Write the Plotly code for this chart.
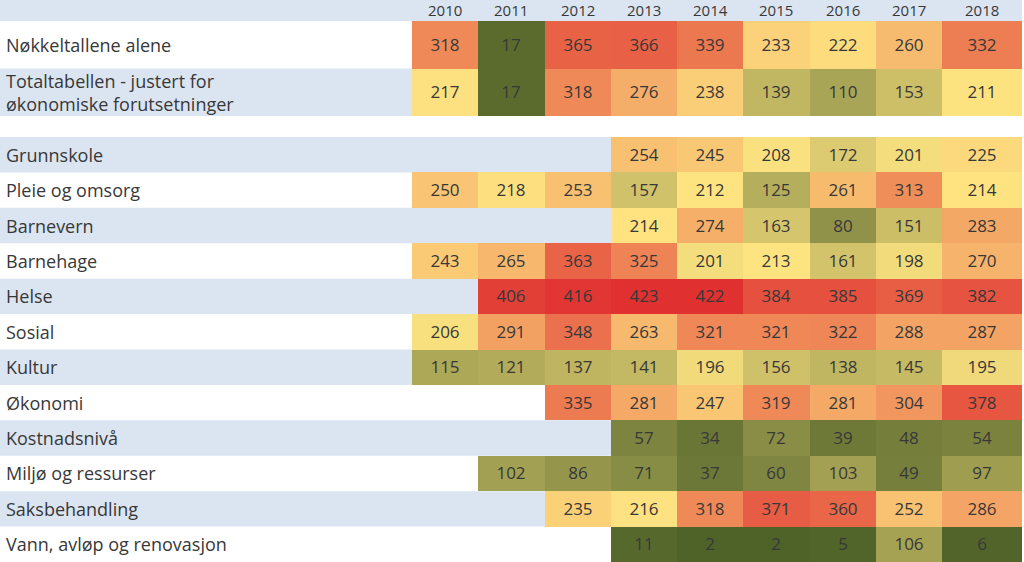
import plotly.graph_objects as go

# ---------------- data ----------------
years = [2010, 2011, 2012, 2013, 2014, 2015, 2016, 2017, 2018]

top_labels = ["Nøkkeltallene alene",
              "Totaltabellen - justert for<br>økonomiske forutsetninger"]
nokkeltall_alene = [318, 17, 365, 366, 339, 233, 222, 260, 332]
totaltabellen = [217, 17, 318, 276, 238, 139, 110, 153, 211]

sector_labels = ["Grunnskole", "Pleie og omsorg", "Barnevern", "Barnehage",
                 "Helse", "Sosial", "Kultur", "Økonomi", "Kostnadsnivå",
                 "Miljø og ressurser", "Saksbehandling",
                 "Vann, avløp og renovasjon"]
grunnskole = [None, None, None, 254, 245, 208, 172, 201, 225]
pleie_omsorg = [250, 218, 253, 157, 212, 125, 261, 313, 214]
barnevern = [None, None, None, 214, 274, 163, 80, 151, 283]
barnehage = [243, 265, 363, 325, 201, 213, 161, 198, 270]
helse = [None, 406, 416, 423, 422, 384, 385, 369, 382]
sosial = [206, 291, 348, 263, 321, 321, 322, 288, 287]
kultur = [115, 121, 137, 141, 196, 156, 138, 145, 195]
okonomi = [None, None, 335, 281, 247, 319, 281, 304, 378]
kostnadsniva = [None, None, None, 57, 34, 72, 39, 48, 54]
miljo = [None, 102, 86, 71, 37, 60, 103, 49, 97]
saksbehandling = [None, None, 235, 216, 318, 371, 360, 252, 286]
vann = [None, None, None, 11, 2, 2, 5, 106, 6]

top_z = [nokkeltall_alene, totaltabellen]
sector_z = [grunnskole, pleie_omsorg, barnevern, barnehage, helse, sosial,
            kultur, okonomi, kostnadsniva, miljo, saksbehandling, vann]

# ---------------- styling ----------------
W, H = 1024, 562
FONT = "Open Sans"
TXT = "#383838"
STRIPE = "#dbe5f1"
colorscale = [[0.0, "#4f6228"], [0.5, "#fee481"], [1.0, "#e03030"]]
all_vals = [v for row in top_z + sector_z for v in row if v is not None]
zmin, zmax = min(all_vals), max(all_vals)

# column geometry (x axis in year units); last column is a bit wider
px_per_unit = 66.25
first_edge_px = 412
edges = [y - 0.5 for y in years] + [years[-1] + 0.5 + 14 / px_per_unit]
x_left = years[0] - 0.5 - first_edge_px / px_per_unit
x_right = x_left + W / px_per_unit
centers = [(edges[i] + edges[i + 1]) / 2 for i in range(len(years))]

def txt(z):
    return [["" if v is None else str(v) for v in row] for row in z]

val_font = dict(family=FONT, size=17, color=TXT)
lab_font = dict(family=FONT, size=18, color=TXT)

fig = go.Figure()
fig.add_trace(go.Heatmap(
    z=top_z, x=edges, y=top_labels, yaxis="y2",
    text=txt(top_z), texttemplate="%{text}", textfont=val_font,
    colorscale=colorscale, zmin=zmin, zmax=zmax, showscale=False,
    hoverinfo="skip", xgap=0, ygap=0))
fig.add_trace(go.Heatmap(
    z=sector_z, x=edges, y=sector_labels, yaxis="y",
    text=txt(sector_z), texttemplate="%{text}", textfont=val_font,
    colorscale=colorscale, zmin=zmin, zmax=zmax, showscale=False,
    hoverinfo="skip", xgap=0, ygap=0))

shapes = []
xr = 1022 / W
# header stripe
shapes.append(dict(type="rect", xref="paper", yref="paper", x0=0, x1=xr,
                   y0=1 - 21 / H, y1=1, fillcolor=STRIPE, line_width=0,
                   layer="below"))
# Totaltabellen stripe
shapes.append(dict(type="rect", xref="paper", yref="y2", x0=0, x1=xr,
                   y0=0.5, y1=1.5, fillcolor=STRIPE, line_width=0,
                   layer="below"))
for i in range(0, len(sector_labels), 2):
    shapes.append(dict(type="rect", xref="paper", yref="y", x0=0, x1=xr,
                       y0=i - 0.5, y1=i + 0.5, fillcolor=STRIPE,
                       line_width=0, layer="below"))

annotations = []
for yr, cx in zip(years, centers):
    annotations.append(dict(x=cx, xref="x", y=1 - 10.5 / H, yref="paper",
                            text=str(yr), showarrow=False,
                            font=dict(family=FONT, size=15, color=TXT),
                            xanchor="center", yanchor="middle"))
for i, lab in enumerate(top_labels):
    annotations.append(dict(x=4 / W, xref="paper", y=i, yref="y2",
                            text=lab, showarrow=False, align="left",
                            font=lab_font, xanchor="left", yanchor="middle"))
for i, lab in enumerate(sector_labels):
    annotations.append(dict(x=4 / W, xref="paper", y=i, yref="y",
                            text=lab, showarrow=False, align="left",
                            font=lab_font, xanchor="left", yanchor="middle"))

fig.update_layout(
    width=W, height=H, autosize=False,
    margin=dict(l=0, r=0, t=0, b=0, pad=0),
    paper_bgcolor="white", plot_bgcolor="rgba(0,0,0,0)",
    xaxis=dict(range=[x_left, x_right], visible=False, fixedrange=True),
    yaxis=dict(domain=[0, 1 - 137 / H], type="category",
               range=[len(sector_labels) - 0.5, -0.5], visible=False,
               fixedrange=True),
    yaxis2=dict(domain=[1 - 116 / H, 1 - 21 / H], type="category",
                range=[1.5, -0.5], visible=False, fixedrange=True,
                anchor="x"),
    shapes=shapes, annotations=annotations, showlegend=False,
)

fig.write_html("out.html", config={"displayModeBar": False},
               post_script="document.body.style.margin='0';"
                           "document.body.style.overflow='hidden';")
